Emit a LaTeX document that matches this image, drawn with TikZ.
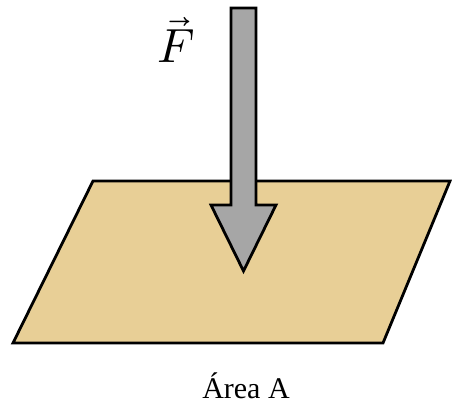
\documentclass[tikz,border=0pt]{standalone}
\usepackage{fontspec}
\usepackage{unicode-math}
\setmainfont{Liberation Serif}
\setmathfont{Latin Modern Math}
\definecolor{papyrus}{RGB}{232,207,150}
\definecolor{arrowgray}{RGB}{166,166,166}
\begin{document}
\begin{tikzpicture}[x=1pt,y=-1pt,
  plane/.style={fill=papyrus,draw=black,line width=2.8pt,line join=miter},
  bigarrow/.style={fill=arrowgray,draw=black,line width=2.8pt,line join=miter}]
\useasboundingbox (0,0) rectangle (452,416);
\draw[plane] (93,181) -- (450,181) -- (383,343) -- (13,343) -- cycle;
\draw[bigarrow] (231,8) -- (256,8) -- (256,205) -- (276,205) -- (243.5,271) -- (211,205) -- (231,205) -- cycle;
\node (F) at (176,40) {\fontsize{48}{52}\selectfont$\vec{F}$};
\node (area) at (246,386) {\fontsize{30}{34}\selectfont Área A};
\end{tikzpicture}
\end{document}
